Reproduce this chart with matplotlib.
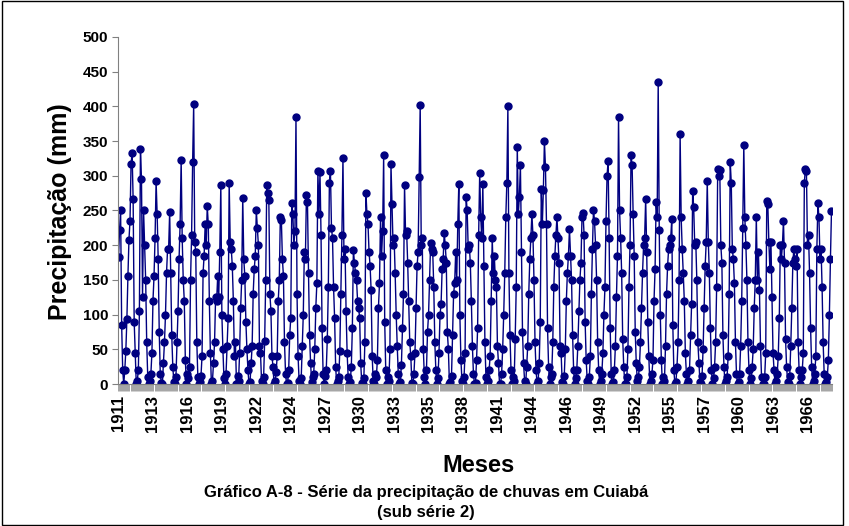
import matplotlib.pyplot as plt
import numpy as np
from matplotlib.patches import Rectangle

# monthly rainfall (mm), Cuiabá, Jan 1911 - Dec 1967
rain_1911_1920 = [
    183, 222, 250, 85, 20, 0, 20, 48, 93, 155, 208, 235,
    317, 333, 266, 90, 45, 0, 5, 20, 105, 339, 295, 125,
    250, 200, 150, 60, 10, 0, 5, 15, 45, 120, 155, 210,
    292, 245, 180, 75, 15, 2, 0, 30, 60, 100, 160, 195,
    195, 248, 160, 70, 25, 3, 0, 10, 60, 105, 180, 230,
    323, 210, 150, 120, 35, 0, 15, 8, 25, 150, 215, 320,
    403, 205, 190, 60, 10, 0, 3, 12, 40, 160, 185, 230,
    200, 256, 230, 120, 45, 0, 5, 30, 60, 125, 120, 155,
    125, 190, 287, 100, 50, 8, 0, 15, 55, 95, 290, 205,
    195, 170, 120, 40, 60, 0, 12, 5, 45, 110, 150, 268,
]
rain_1921_1930 = [
    180, 155, 90, 50, 20, 0, 3, 30, 55, 130, 165, 185,
    250, 225, 200, 55, 45, 5, 0, 10, 62, 150, 287, 275,
    265, 130, 105, 40, 25, 0, 5, 18, 40, 120, 150, 240,
    236, 180, 155, 60, 15, 0, 2, 20, 70, 95, 261, 245,
    200, 220, 385, 130, 40, 5, 0, 8, 55, 100, 190, 180,
    272, 262, 160, 70, 30, 3, 10, 15, 50, 110, 145, 307,
    245, 305, 215, 80, 15, 0, 12, 20, 65, 140, 290, 307,
    225, 210, 140, 95, 25, 0, 5, 10, 48, 130, 215, 326,
    180, 195, 105, 45, 10, 0, 3, 25, 80, 193, 175, 160,
    150, 120, 110, 95, 30, 2, 0, 8, 60, 275, 245, 230,
]
rain_1931_1940 = [
    190, 170, 135, 40, 5, 0, 15, 10, 35, 110, 145, 240,
    185, 220, 330, 90, 20, 0, 10, 5, 50, 317, 260, 200,
    210, 160, 100, 55, 15, 0, 3, 28, 80, 130, 287, 215,
    220, 175, 120, 60, 40, 2, 0, 15, 45, 110, 170, 190,
    298, 402, 200, 210, 50, 10, 0, 20, 75, 100, 150, 203,
    195, 190, 140, 60, 20, 0, 8, 45, 100, 115, 165, 180,
    218, 200, 175, 75, 50, 0, 3, 12, 70, 130, 145, 190,
    150, 230, 288, 100, 35, 5, 0, 10, 45, 270, 250, 195,
    200, 175, 120, 55, 15, 0, 2, 35, 80, 215, 304, 240,
    210, 288, 170, 60, 10, 0, 5, 20, 40, 120, 210, 160,
]
rain_1941_1950 = [
    185, 150, 140, 55, 30, 0, 0, 15, 50, 100, 160, 240,
    290, 400, 160, 70, 20, 0, 10, 5, 65, 140, 342, 245,
    270, 315, 190, 75, 30, 5, 0, 25, 55, 130, 180, 210,
    245, 215, 150, 60, 20, 0, 5, 30, 90, 281, 230, 280,
    350, 312, 230, 80, 25, 0, 10, 15, 60, 140, 185, 215,
    240, 210, 175, 55, 45, 3, 0, 12, 50, 120, 160, 185,
    223, 185, 150, 70, 20, 0, 8, 20, 55, 105, 150, 175,
    240, 246, 215, 90, 35, 5, 0, 10, 40, 130, 195, 251,
    235, 200, 150, 60, 20, 0, 5, 15, 45, 100, 140, 235,
    300, 321, 210, 80, 15, 0, 3, 20, 55, 125, 185, 385,
]
rain_1951_1960 = [
    250, 210, 160, 65, 25, 0, 0, 10, 50, 140, 200, 330,
    315, 245, 185, 75, 30, 5, 10, 25, 60, 110, 160, 200,
    210, 267, 190, 90, 40, 0, 5, 15, 35, 120, 165, 262,
    240, 435, 222, 100, 35, 0, 10, 5, 55, 130, 170, 195,
    200, 210, 238, 85, 20, 0, 3, 25, 60, 150, 360, 240,
    195, 160, 120, 45, 15, 0, 5, 20, 70, 115, 278, 255,
    200, 205, 150, 60, 30, 3, 0, 12, 50, 110, 170, 205,
    292, 205, 160, 80, 20, 0, 8, 25, 60, 140, 310, 300,
    308, 200, 175, 70, 25, 0, 5, 10, 40, 130, 320, 290,
    195, 180, 145, 60, 15, 0, 3, 15, 55, 120, 225, 344,
]
rain_1961_1967 = [
    240, 200, 150, 60, 20, 0, 8, 25, 50, 110, 150, 240,
    150, 190, 135, 55, 10, 0, 0, 10, 45, 264, 260, 205,
    165, 205, 125, 45, 20, 0, 5, 15, 40, 95, 200, 180,
    200, 235, 175, 65, 25, 3, 0, 12, 55, 110, 175, 195,
    180, 170, 195, 60, 20, 0, 10, 20, 45, 290, 310, 307,
    200, 215, 160, 80, 25, 0, 5, 15, 40, 195, 261, 240,
    180, 195, 140, 60, 15, 0, 3, 10, 35, 100, 180, 249,
]

first_year = 1911
label_step = 33  # a year label every 33 months, as on the original axis

rain = np.array(rain_1911_1920 + rain_1921_1930 + rain_1931_1940
                + rain_1941_1950 + rain_1951_1960 + rain_1961_1967)
months = np.arange(len(rain))

plt.rcParams["font.family"] = ["Liberation Sans", "DejaVu Sans"]
plt.rcParams["font.weight"] = "bold"

fig = plt.figure(figsize=(8.49, 5.26), dpi=100)
ax = fig.add_axes([118 / 849, 1 - 384 / 526, 714 / 849, 347 / 526])

ax.plot(months, rain, color="#000080", linewidth=1.0, marker="o",
        markersize=5, markerfacecolor="#000080", markeredgecolor="#000080")

ax.set_xlim(-0.5, len(rain) - 0.5)
ax.set_ylim(0, 500)
ax.set_yticks(np.arange(0, 501, 50))
ax.tick_params(axis="y", labelsize=11, length=4, direction="out", color="#808080", pad=3)

tick_pos = np.arange(0, len(rain), label_step)
ax.set_xticks(tick_pos)
ax.set_xticklabels([str(first_year + p // 12) for p in tick_pos], rotation=90, fontsize=12)
ax.set_xticks(np.arange(-0.5, len(rain), 1), minor=True)
ax.tick_params(axis="x", which="major", length=0, pad=8)
ax.tick_params(axis="x", which="minor", length=5, width=0.5, color="#808080")

for side in ["top", "right"]:
    ax.spines[side].set_visible(False)
for side in ["left", "bottom"]:
    ax.spines[side].set_color("#808080")

fig.text(60 / 849, 1 - 212 / 526, "Precipitação (mm)", rotation=90, fontsize=18,
         ha="center", va="center")
fig.text(478 / 849, 1 - 465 / 526, "Meses", fontsize=17, ha="center", va="center")
fig.text(426 / 849, 1 - 492 / 526, "Gráfico A-8 - Série da precipitação de chuvas em Cuiabá",
         fontsize=12, ha="center", va="center")
fig.text(426 / 849, 1 - 512 / 526, "(sub série 2)", fontsize=12, ha="center", va="center")

fig.patches.append(Rectangle((2 / 849, 1 / 526), 841 / 849, 524 / 526, transform=fig.transFigure,
                             fill=False, edgecolor="black", linewidth=1))

fig.savefig("out.png", dpi=100)
